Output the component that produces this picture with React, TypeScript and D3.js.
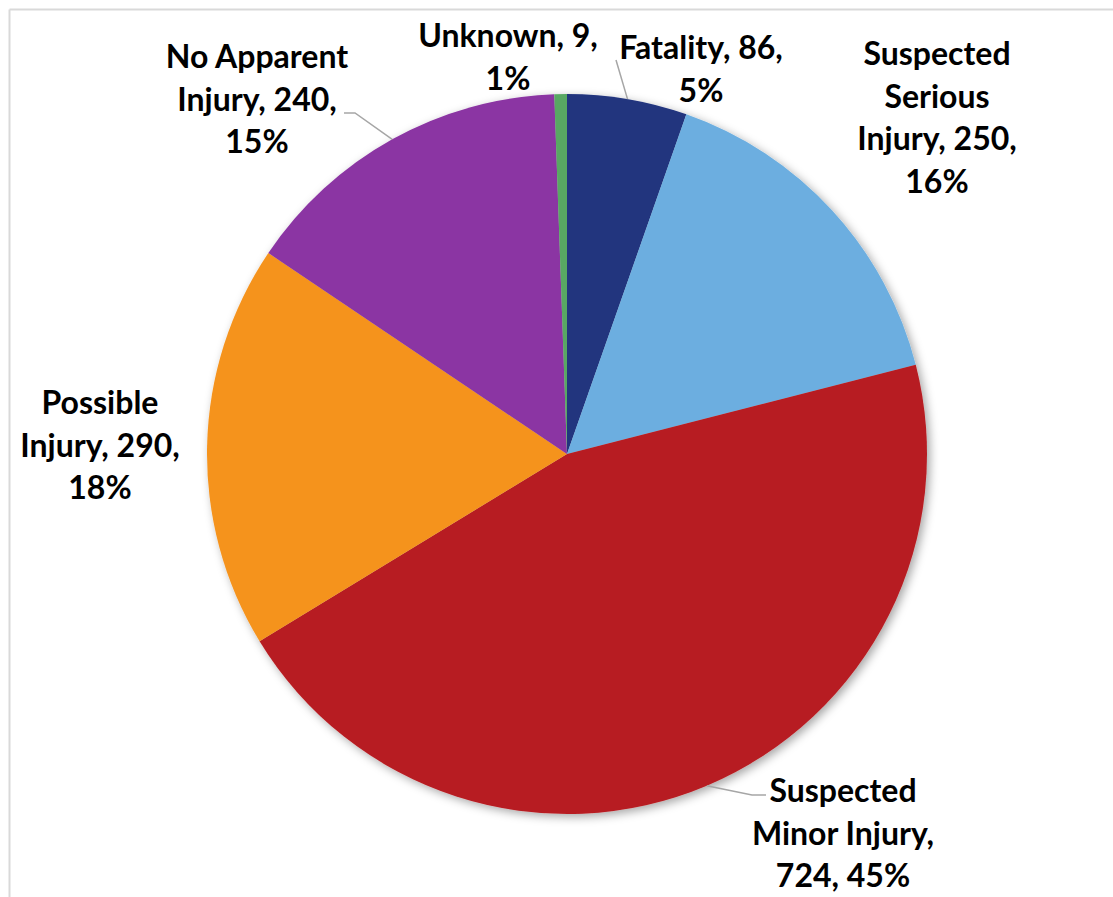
import React from "react";
import * as d3 from "d3";

const categories = [
  "Fatality",
  "Suspected Serious Injury",
  "Suspected Minor Injury",
  "Possible Injury",
  "No Apparent Injury",
  "Unknown",
];
const values = [86, 250, 724, 290, 240, 9];
const colors = ["#21347e", "#6caee0", "#b71c21", "#f5931e", "#8b35a3", "#58a864"];

// label lines (layout text) for each category
const labelLines = [
  ["Fatality, 86,", "5%"],
  ["Suspected", "Serious", "Injury, 250,", "16%"],
  ["Suspected", "Minor Injury,", "724, 45%"],
  ["Possible", "Injury, 290,", "18%"],
  ["No Apparent", "Injury, 240,", "15%"],
  ["Unknown, 9,", "1%"],
];

const W = 1113;
const H = 897;
const cx = 567;
const cy = 454;
const R = 360;
const fontSize = 32;
const lineH = 42.5;

// label layout: center x, first baseline y, leader anchor or null
const labelLayout = [
  { x: 701, y: 59, leader: { x: 616, y: 60, h: 0 } },
  { x: 937, y: 65, leader: null },
  { x: 843, y: 802, leader: { x: 766, y: 795, h: -14 } },
  { x: 100, y: 414, leader: null },
  { x: 257, y: 68, leader: { x: 344, y: 113, h: 11 } },
  { x: 508, y: 47, leader: null },
];

export default function App() {
  const pie = d3
    .pie<number>()
    .sort(null)
    .value((d) => d)
    .startAngle(0)
    .endAngle(2 * Math.PI);
  const arcs = pie(values);
  const arc = d3.arc<d3.PieArcDatum<number>>().innerRadius(0).outerRadius(R);
  const edge = d3.arc<d3.PieArcDatum<number>>().innerRadius(R).outerRadius(R);

  return (
    <svg
      width={W}
      height={H}
      style={{ position: "absolute", left: 0, top: 0, background: "#fff" }}
      fontFamily="Lato, 'Open Sans', sans-serif"
    >
      <defs>
        <filter id="shadow" x="-10%" y="-10%" width="120%" height="120%">
          <feDropShadow dx="3" dy="3" stdDeviation="5" floodColor="#000" floodOpacity="0.35" />
        </filter>
      </defs>
      <rect x={0} y={0} width={W} height={H} fill="#fff" />
      <line x1={9.5} y1={9.5} x2={W} y2={9.5} stroke="#d9d9d9" strokeWidth={2} />
      <line x1={9.5} y1={9.5} x2={9.5} y2={H} stroke="#d9d9d9" strokeWidth={2} />
      <g transform={`translate(${cx},${cy})`} filter="url(#shadow)">
        {arcs.map((a, i) => (
          <path key={categories[i]} d={arc(a) as string} fill={colors[i]} />
        ))}
      </g>
      {arcs.map((a, i) => {
        const L = labelLayout[i].leader;
        if (!L) return null;
        const [ex, ey] = edge.centroid(a);
        const pts = [
          [L.x, L.y],
          [L.x + L.h, L.y],
          [cx + ex, cy + ey],
        ];
        return (
          <polyline
            key={"leader" + i}
            points={pts.map((p) => p.join(",")).join(" ")}
            fill="none"
            stroke="#a6a6a6"
            strokeWidth={1.5}
          />
        );
      })}
      {labelLines.map((lines, i) => (
        <text
          key={"label" + i}
          x={labelLayout[i].x}
          y={labelLayout[i].y}
          textAnchor="middle"
          fontSize={fontSize}
          fontWeight="bold"
          fill="#000"
        >
          {lines.map((t, j) => (
            <tspan key={j} x={labelLayout[i].x} y={labelLayout[i].y + j * lineH}>
              {t}
            </tspan>
          ))}
        </text>
      ))}
    </svg>
  );
}
